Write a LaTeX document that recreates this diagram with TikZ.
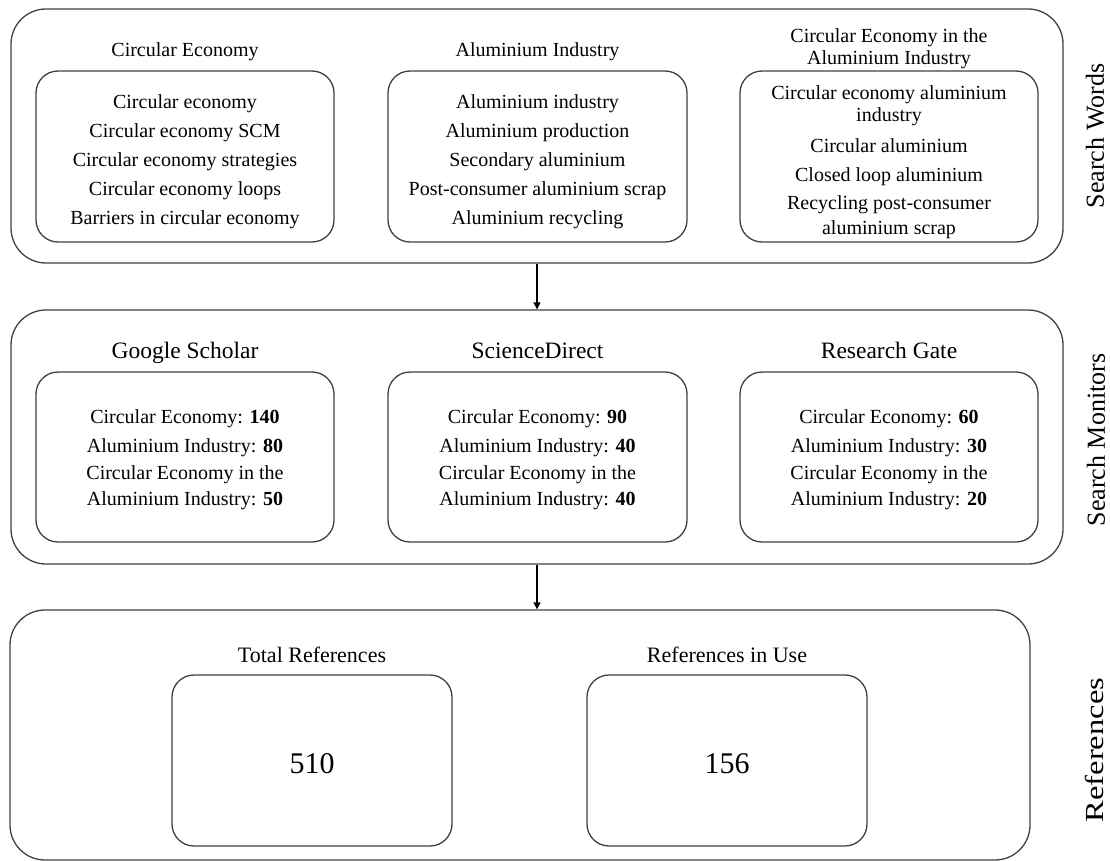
\documentclass[tikz,border=0pt]{standalone}
\usepackage{fontspec}
\setmainfont{Liberation Serif}
\usetikzlibrary{arrows.meta}
\newcommand\topup[1]{\rule{0pt}{#1}}
\tikzset{
  outerbox/.style={draw=black!75, line width=1.3pt, rounded corners=35pt, inner sep=0pt},
  innerbox/.style={draw=black!75, line width=1.3pt, rounded corners=22pt, inner sep=0pt, align=center,
     font=\fontsize{20}{29}\selectfont},
  ttl/.style={font=\fontsize{20}{22}\selectfont, align=center, inner sep=0pt},
  bigttl/.style={font=\fontsize{23.5}{26}\selectfont, align=center, inner sep=0pt, anchor=base},
  midttl/.style={font=\fontsize{22}{24}\selectfont, align=center, inner sep=0pt, anchor=base},
  sidelbl/.style={font=\fontsize{26}{28}\selectfont, rotate=90, inner sep=0pt},
  arr/.style={line width=1.3pt, -{Triangle[width=7pt,length=7pt]}}
}
\begin{document}
\begin{tikzpicture}[x=1pt,y=-1pt]
\useasboundingbox (0,0) rectangle (1110,861);
% outer boxes
\node[outerbox, minimum width=1052pt, minimum height=254pt] (ob1) at (537,136) {};
\node[outerbox, minimum width=1052pt, minimum height=254pt] (ob2) at (537,437) {};
\node[outerbox, minimum width=1020pt, minimum height=250pt] (ob3) at (520,735) {};
% row 1
\node[ttl, anchor=base] (t11) at (185,57) {Circular Economy};
\node[ttl, anchor=base] (t12) at (537.5,57) {Aluminium Industry};
\node[ttl] (t13) at (889,48.5) {Circular Economy in the\\Aluminium Industry};
\node[innerbox, minimum width=298pt, minimum height=171pt] (b11) at (185,156.5)
  {\topup{24pt}Circular economy\\Circular economy SCM\\Circular economy strategies\\Circular economy loops\\Barriers in circular economy};
\node[innerbox, minimum width=299pt, minimum height=171pt] (b12) at (537.5,156.5)
  {\topup{24pt}Aluminium industry\\Aluminium production\\Secondary aluminium\\Post-consumer aluminium scrap\\Aluminium recycling};
\node[innerbox, minimum width=298pt, minimum height=171pt] (b13) at (889,156.5)
  {\topup{26pt}Circular economy aluminium\\[-7pt]industry\\[2pt]Circular aluminium\\Closed loop aluminium\\[-1pt]Recycling post-consumer\\[-4pt]aluminium scrap};
\node[sidelbl] (s1) at (1095,136) {Search Words};
% row 2
\node[bigttl] (t21) at (185,358) {Google Scholar};
\node[bigttl] (t22) at (537.5,358) {ScienceDirect};
\node[bigttl] (t23) at (889,358) {Research Gate};
\node[innerbox, minimum width=298pt, minimum height=170pt] (b21) at (185,457)
  {\topup{20pt}Circular Economy: \textbf{140}\\Aluminium Industry: \textbf{80}\\[-2pt]Circular Economy in the\\[-3pt]Aluminium Industry: \textbf{50}};
\node[innerbox, minimum width=299pt, minimum height=170pt] (b22) at (537.5,457)
  {\topup{20pt}Circular Economy: \textbf{90}\\Aluminium Industry: \textbf{40}\\[-2pt]Circular Economy in the\\[-3pt]Aluminium Industry: \textbf{40}};
\node[innerbox, minimum width=298pt, minimum height=170pt] (b23) at (889,457)
  {\topup{20pt}Circular Economy: \textbf{60}\\Aluminium Industry: \textbf{30}\\[-2pt]Circular Economy in the\\[-3pt]Aluminium Industry: \textbf{20}};
\node[sidelbl] (s2) at (1096,440) {Search Monitors};
% row 3
\node[midttl] (t31) at (312,662) {Total References};
\node[midttl] (t32) at (727,662) {References in Use};
\node[innerbox, minimum width=280pt, minimum height=171pt, font=\fontsize{30}{32}\selectfont] (b31) at (312,760.5) {\topup{26pt}510};
\node[innerbox, minimum width=280pt, minimum height=171pt, font=\fontsize{30}{32}\selectfont] (b32) at (727,760.5) {\topup{26pt}156};
\node[sidelbl, xscale=1.25] (s3) at (1094,750) {References};
% arrows
\draw[arr] (ob1.south) -- (ob2.north);
\draw[arr] (ob2.south) -- (ob2.south |- ob3.north);
\end{tikzpicture}
\end{document}
